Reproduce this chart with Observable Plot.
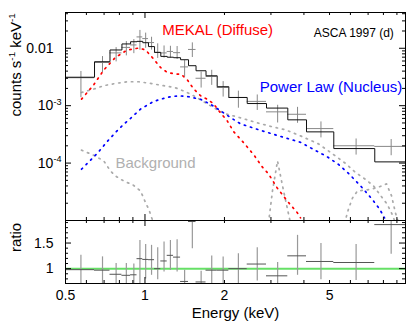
<!DOCTYPE html>
<html><head><meta charset="utf-8">
<script src="https://cdn.jsdelivr.net/npm/d3@7"></script>
<script src="https://cdn.jsdelivr.net/npm/@observablehq/plot@0.6"></script>
<style>
body{margin:0;background:#fff;}
#chart{position:relative;width:416px;height:329px;font-family:"Liberation Sans",Arial,sans-serif;}
#chart svg{position:absolute;left:0;overflow:visible;}
</style></head><body><div id="chart"></div>
<script>
// ---- data ----
const binEdges = [0.5,0.644,0.737,0.818,0.882,0.933,0.981,1.031,1.087,1.148,1.214,1.283,1.364,1.462,1.561,1.703,1.877,2.078,2.439,2.886,3.475,4.091,5.19,7.42,9.70];
const modelRate = [3.13e-3,5.83e-3,9.34e-3,1.19e-2,1.30e-2,1.32e-2,1.25e-2,1.07e-2,8.48e-3,7.22e-3,6.99e-3,6.85e-3,6.32e-3,4.97e-3,4.06e-3,3.32e-3,2.14e-3,1.39e-3,1.09e-3,9.08e-4,5.67e-4,3.50e-4,1.79e-4,1.05e-4];
const ratioVal = [0.98,0.97,0.89,0.87,0.88,1.195,1.18,1.175,1.0,1.15,1.26,1.225,0.75,1.92,0.74,0.97,0.97,1.0,1.09,0.86,1.25,1.14,1.12,1.86];
const ratioHi = [1.26,1.23,1.10,1.10,1.09,1.55,1.47,1.455,1.41,1.52,1.55,1.566,0.967,2.5,0.947,1.246,1.227,1.29,1.41,1.12,1.65,1.49,1.47,2.45];
const ratioLo = [0.44,0.65,0.62,0.62,0.62,0.70,0.80,0.87,0.785,0.934,0.967,0.934,0.5,1.39,0.5,0.68,0.66,0.65,0.758,0.55,0.87,0.785,0.77,1.28];

const mekalE = [0.575,0.640,0.698,0.773,0.857,0.948,1.005,1.065,1.145,1.214,1.305,1.364,1.437,1.527,1.623,1.720,1.818,1.904,2.049,2.170,2.368,2.584,2.780,2.937,3.169,3.458,3.773,3.883];
const mekalV = [1.30e-3,2.32e-3,4.18e-3,6.94e-3,9.34e-3,1.01e-2,9.34e-3,6.94e-3,4.64e-3,3.80e-3,3.56e-3,3.56e-3,2.95e-3,1.97e-3,1.49e-3,1.30e-3,1.08e-3,8.15e-4,5.45e-4,3.50e-4,2.25e-4,1.39e-4,8.58e-5,6.48e-5,3.69e-5,2.19e-5,1.37e-5,1.11e-5];

const plE = [0.575,0.622,0.669,0.719,0.773,0.832,0.882,0.962,1.080,1.214,1.344,1.466,1.623,1.771,1.932,2.109,2.300,2.740,3.261,3.883,4.349,4.871,5.408,5.954,6.609,7.213,7.734,8.078];
const plV = [7.82e-5,1.12e-4,1.59e-4,2.37e-4,3.41e-4,4.77e-4,6.03e-4,8.72e-4,1.19e-3,1.40e-3,1.49e-3,1.43e-3,1.29e-3,1.06e-3,8.15e-4,6.22e-4,4.83e-4,3.72e-4,2.92e-4,2.30e-4,1.73e-4,1.31e-4,9.49e-5,6.35e-5,3.84e-5,2.42e-5,1.59e-5,1.11e-5];

const grayE = [0.575,0.640,0.698,0.773,0.857,0.948,1.049,1.178,1.305,1.424,1.554,1.696,1.850,2.019,2.300,2.661,2.988,3.406,3.883,4.543,5.133,5.749,6.272,6.845,7.339,7.918,8.271,8.640,8.815];
const grayV = [1.70e-3,1.95e-3,2.23e-3,2.44e-3,2.61e-3,2.61e-3,2.44e-3,2.23e-3,2.05e-3,1.75e-3,1.43e-3,1.12e-3,8.83e-4,7.22e-4,6.15e-4,5.03e-4,4.37e-4,3.80e-4,2.98e-4,2.16e-4,1.45e-4,9.88e-5,6.88e-5,5.19e-5,4.00e-5,2.50e-5,1.92e-5,1.28e-5,1.0e-5];

const bgLoE = [0.575,0.604,0.640,0.698,0.740,0.773,0.808,0.857,0.894,0.962,1.005,1.034,1.065,1.09];
const bgLoV = [1.68e-4,1.53e-4,1.37e-4,1.09e-4,7.31e-5,5.98e-5,5.24e-5,4.57e-5,4.28e-5,3.27e-5,2.05e-5,1.57e-5,1.05e-5,7e-6];
const bgLineE = [2.937,3.041,3.177,3.348,3.558];
const bgLineV = [9e-6,3.3e-5,1.09e-4,3.3e-5,9e-6];
const bgHiE = [5.70,5.90,6.11,6.38,6.90,7.53,8.22,8.59,8.89,9.13];
const bgHiV = [9e-6,1.59e-5,2.47e-5,3.27e-5,3.40e-5,3.69e-5,4.34e-5,2.68e-5,1.35e-5,9e-6];

const xTickValues = [0.5,1,2,5];
const xTickLabels = ["0.5","1","2","5"];
const yTickValues = [1e-4,1e-3,1e-2];
const yTickLabels = ["10^-4","10^-3","0.01"];
const rTickValues = [1,1.5];
const rTickLabels = ["1","1.5"];

(function(){
const bins = modelRate.map((m,i)=>({
  lo: binEdges[i], hi: binEdges[i+1], mid: (binEdges[i]+binEdges[i+1])/2,
  model: m, ratio: ratioVal[i], rLo: ratioLo[i], rHi: ratioHi[i],
  data: m*ratioVal[i], dLo: m*ratioLo[i], dHi: m*ratioHi[i]
}));
const stepPts = bins.map(b=>({x:b.lo,y:b.model})).concat([{x:bins[bins.length-1].hi,y:bins[bins.length-1].model}]);
const pts = (E,V)=>E.map((e,i)=>({x:e,y:V[i]}));

const font = '"Liberation Sans", Arial, sans-serif';
const W = 340, topH = 208, rH = 63;
const xDomain = [0.5, 9.7];
const dot = {strokeWidth:1.7, strokeDasharray:"1.4,5", clip:true};
const xMinor = [0.6,0.7,0.8,0.9,2,3,4,5,6,7,8,9];

const yMinor = [];
for (let k=-5;k<=-2;k++) for (let m=2;m<=9;m++){const v=m*Math.pow(10,k); if(v<=0.042) yMinor.push(v);}

const topSvg = Plot.plot({
  width:416, height:220, marginLeft:65, marginRight:11, marginTop:12, marginBottom:0,
  style:{fontFamily:font, fontSize:"14px", background:"transparent", overflow:"visible"},
  x:{type:"log", domain:xDomain, axis:null},
  y:{type:"log", domain:[1e-5,0.042]},
  marks:[
    Plot.line(pts(grayE,grayV), {x:"x",y:"y",stroke:"#aaaaaa",...dot}),
    Plot.line(pts(bgLoE,bgLoV), {x:"x",y:"y",stroke:"#aaaaaa",...dot}),
    Plot.line(pts(bgLineE,bgLineV), {x:"x",y:"y",stroke:"#aaaaaa",...dot}),
    Plot.line(pts(bgHiE,bgHiV), {x:"x",y:"y",stroke:"#aaaaaa",...dot}),
    Plot.line(pts(mekalE,mekalV), {x:"x",y:"y",stroke:"#ff0000",...dot}),
    Plot.line(pts(plE,plV), {x:"x",y:"y",stroke:"#0000ff",...dot}),
    Plot.ruleX(bins, {x:"mid", y1:"dLo", y2:"dHi", stroke:"#888", strokeWidth:1, clip:true}),
    Plot.ruleY(bins, {y:"data", x1:"lo", x2:"hi", stroke:"#888", strokeWidth:1, clip:true}),
    Plot.line(stepPts, {x:"x", y:"y", curve:"step-after", stroke:"#111", strokeWidth:1, clip:true}),
    Plot.frame({stroke:"#000"}),
    Plot.tickY(yTickValues, {y:d=>d, insetRight:W-6, stroke:"#000"}),
    Plot.tickY(yMinor, {y:d=>d, insetRight:W-3, stroke:"#000"}),
    Plot.tickY(yTickValues, {y:d=>d, insetLeft:W-6, stroke:"#000"}),
    Plot.tickY(yMinor, {y:d=>d, insetLeft:W-3, stroke:"#000"}),
    Plot.tickX([1], {x:d=>d, insetBottom:topH-6, stroke:"#000"}),
    Plot.tickX(xMinor, {x:d=>d, insetBottom:topH-3, stroke:"#000"}),
    Plot.tickX([1], {x:d=>d, insetTop:topH-6, stroke:"#000"}),
    Plot.tickX(xMinor, {x:d=>d, insetTop:topH-3, stroke:"#000"}),
    Plot.axisY([yTickValues[2]], {tickSize:0, tickPadding:12, tickFormat:()=>yTickLabels[2], fontSize:14}),
    Plot.axisY(yTickValues.slice(0,2), {tickSize:0, tickPadding:4, tickFormat:d=>yTickLabels[yTickValues.indexOf(d)], fontSize:14}),
    Plot.text(["counts s^-1 keV^-1"], {text:d=>d, frameAnchor:"left", dx:-49, rotate:-90, fontSize:15, fill:"#000"}),
    Plot.text(["MEKAL (Diffuse)"], {text:d=>d, x:1.162, y:0.0209, textAnchor:"start", fill:"#ff0000", fontSize:15}),
    Plot.text(["ASCA 1997 (d)"], {text:d=>d, x:4.36, y:0.0182, textAnchor:"start", fill:"#000", fontSize:12}),
    Plot.text(["Power Law (Nucleus)"], {text:d=>d, x:2.72, y:2.08e-3, textAnchor:"start", fill:"#0000ff", fontSize:15}),
    Plot.text(["Background"], {text:d=>d, x:0.773, y:1e-4, textAnchor:"start", fill:"#b0b0b0", fontSize:15})
  ]
});

const rMinor = [0.8,0.9,1.1,1.2,1.3,1.4,1.6,1.7,1.8,1.9];
const bottomSvg = Plot.plot({
  width:416, height:109, marginLeft:65, marginRight:11, marginTop:0, marginBottom:46,
  style:{fontFamily:font, fontSize:"14px", background:"transparent", overflow:"visible"},
  x:{type:"log", domain:xDomain, axis:null},
  y:{domain:[0.71,1.94]},
  marks:[
    Plot.ruleY([1], {y:d=>d, stroke:"#66e066", strokeWidth:2}),
    Plot.ruleX(bins, {x:"mid", y1:"rLo", y2:"rHi", stroke:"#999", strokeWidth:1.2, clip:true}),
    Plot.ruleY(bins, {y:"ratio", x1:"lo", x2:"hi", stroke:"#555", strokeWidth:1, clip:true}),
    Plot.frame({stroke:"#000"}),
    Plot.tickY(rTickValues, {y:d=>d, insetRight:W-6, stroke:"#000"}),
    Plot.tickY(rMinor, {y:d=>d, insetRight:W-3, stroke:"#000"}),
    Plot.tickY(rTickValues, {y:d=>d, insetLeft:W-6, stroke:"#000"}),
    Plot.tickY(rMinor, {y:d=>d, insetLeft:W-3, stroke:"#000"}),
    Plot.tickX([1], {x:d=>d, insetBottom:rH-6, stroke:"#000"}),
    Plot.tickX(xMinor, {x:d=>d, insetBottom:rH-3, stroke:"#000"}),
    Plot.tickX([1], {x:d=>d, insetTop:rH-6, stroke:"#000"}),
    Plot.tickX(xMinor, {x:d=>d, insetTop:rH-3, stroke:"#000"}),
    Plot.axisY(rTickValues, {tickSize:0, tickPadding:12, tickFormat:d=>rTickLabels[rTickValues.indexOf(d)], fontSize:14}),
    Plot.text(xTickValues, {x:d=>d, text:(d,i)=>xTickLabels[i], frameAnchor:"bottom", lineAnchor:"middle", dy:12.5, fontSize:14, fill:"#000"}),
    Plot.text(["ratio"], {text:d=>d, frameAnchor:"left", dx:-49, rotate:-90, fontSize:15, fill:"#000"}),
    Plot.text(["Energy (keV)"], {text:d=>d, frameAnchor:"bottom", lineAnchor:"middle", dy:29.2, fontSize:15, fill:"#000"})
  ]
});

const chart = document.getElementById("chart");
topSvg.style.top = "0px";
bottomSvg.style.top = "220px";
chart.appendChild(bottomSvg);
chart.appendChild(topSvg);

function supify(svg){
  const NS = "http://www.w3.org/2000/svg";
  svg.querySelectorAll("text").forEach(t=>{
    const s = t.textContent;
    if (!s.includes("^")) return;
    const base = parseFloat(getComputedStyle(t).fontSize) || 14;
    const supSize = (base*0.65).toFixed(1), rise = base*0.4;
    const parts = s.split(/\^(-?\d+)/);
    t.textContent = "";
    let cur = 0;
    parts.forEach((p,i)=>{
      if (p === "") return;
      const ts = document.createElementNS(NS,"tspan");
      ts.textContent = p;
      if (i%2===1){ ts.setAttribute("font-size", supSize); ts.setAttribute("dy", (-rise - cur).toFixed(1)); cur = -rise; }
      else { if (cur !== 0) ts.setAttribute("dy", (-cur).toFixed(1)); cur = 0; }
      t.appendChild(ts);
    });
  });
}
supify(topSvg);
supify(bottomSvg);
})();
</script>
</body></html>
